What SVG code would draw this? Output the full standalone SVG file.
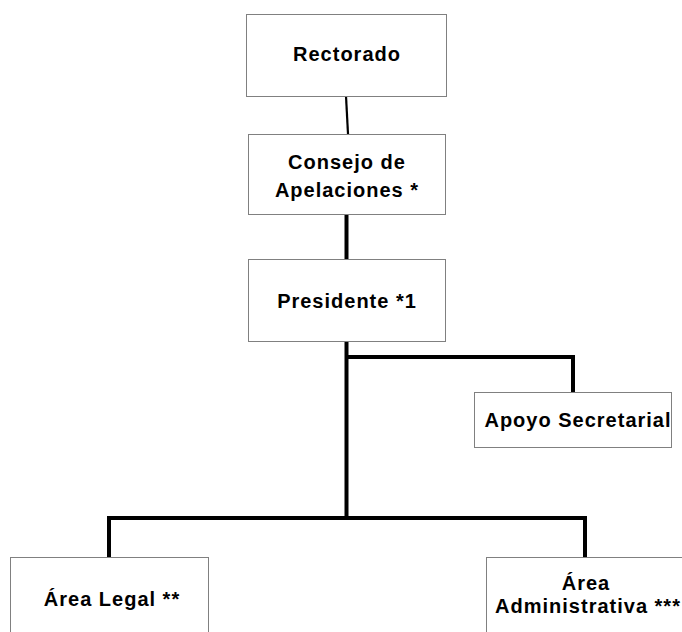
<svg xmlns="http://www.w3.org/2000/svg" width="682" height="632" viewBox="0 0 682 632">
<style>
.box{fill:#fff;stroke:#808080;stroke-width:1}
.t{font-family:"Liberation Sans",Arial,sans-serif;font-weight:bold;font-size:20px;letter-spacing:1px;fill:#000;text-anchor:middle}
.c{fill:none;stroke:#000;stroke-width:4;stroke-linecap:butt}
</style>
<rect width="682" height="632" fill="#fff"/>
<g id="connectors">
<line x1="346" y1="96" x2="348" y2="134" stroke="#000" stroke-width="2.2"/>
<line class="c" x1="346.5" y1="214" x2="346.5" y2="259"/>
<line class="c" x1="346.5" y1="342" x2="346.5" y2="520"/>
<polyline class="c" points="346.5,357 573,357 573,392"/>
<polyline class="c" points="109,557 109,518 585,518 585,557"/>
</g>
<g id="rectorado">
<rect class="box" x="246.5" y="14.5" width="200" height="82"/>
<text class="t" x="347" y="61">Rectorado</text>
</g>
<g id="consejo">
<rect class="box" x="248.5" y="134.5" width="197" height="80"/>
<text class="t" x="347" y="169">Consejo de</text>
<text class="t" x="347" y="197">Apelaciones *</text>
</g>
<g id="presidente">
<rect class="box" x="248.5" y="259.5" width="197" height="82"/>
<text class="t" x="347" y="308">Presidente *1</text>
</g>
<g id="apoyo">
<rect class="box" x="474.5" y="392.5" width="197" height="55"/>
<text class="t" x="578" y="427">Apoyo Secretarial</text>
</g>
<g id="legal">
<rect class="box" x="10.5" y="557.5" width="198" height="90"/>
<text class="t" x="112" y="606">Área Legal **</text>
</g>
<g id="administrativa">
<rect class="box" x="486.5" y="557.5" width="198" height="90"/>
<text class="t" x="586" y="590">Área</text>
<text class="t" x="588" y="613">Administrativa ***</text>
</g>
</svg>
